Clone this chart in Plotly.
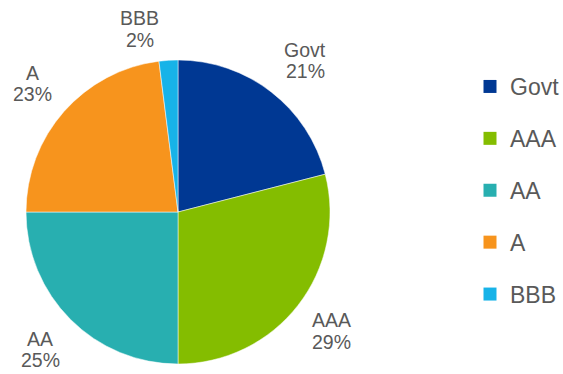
import math
import plotly.graph_objects as go

# Portfolio breakdown by credit rating
ratings = ["Govt", "AAA", "AA", "A", "BBB"]
shares = [21, 29, 25, 23, 2]
colors = ["#003893", "#84BD00", "#28AFB0", "#F7941D", "#17B3E8"]

W, H = 563, 374
cx, cy, r = 178, 212, 152  # pie centre and radius in pixels
FONT = "Liberation Sans, Arial"
GREY = "#595959"
LINE = 21.5  # line spacing of the two-line slice labels, px

fig = go.Figure()
fig.add_trace(
    go.Pie(
        labels=ratings,
        values=shares,
        sort=False,
        direction="clockwise",
        rotation=0,
        marker=dict(colors=colors, line=dict(color="white", width=0.5)),
        textinfo="none",
        hoverinfo="label+percent",
        showlegend=False,
        domain=dict(x=[(cx - r) / W, (cx + r) / W],
                    y=[1 - (cy + r) / H, 1 - (cy - r) / H]),
    )
)

# Legend entries: one square swatch per rating, each in its own group
for name, col in zip(ratings, colors):
    fig.add_trace(go.Scatter(
        x=[None], y=[None], mode="markers", name=name,
        marker=dict(symbol="square", size=13, color=col),
        legendgroup=name, showlegend=True, hoverinfo="skip",
    ))

# Outside labels placed along each slice's mid angle; small nudges keep
# the narrow BBB label clear of its neighbours
nudge = {"Govt": (8, 2), "BBB": (-26, 11)}
total = sum(shares)
cum = 0
annotations = []
for name, v in zip(ratings, shares):
    mid = (cum + v / 2) / total * 2 * math.pi
    cum += v
    R = r * 1.28
    dx, dy = nudge.get(name, (0, 0))
    px = cx + R * math.sin(mid) + dx
    py = cy - R * math.cos(mid) + dy
    pct = f"{round(v / total * 100)}%"
    for line_text, off in ((name, -LINE / 2), (pct, LINE / 2)):
        annotations.append(dict(
            x=px / W, y=1 - (py + off) / H, xref="paper", yref="paper",
            text=line_text,
            showarrow=False, xanchor="center", yanchor="middle",
            font=dict(size=19.5, color=GREY, family=FONT),
        ))

fig.update_layout(
    width=W, height=H,
    margin=dict(l=0, r=0, t=0, b=0, autoexpand=False),
    paper_bgcolor="white",
    plot_bgcolor="white",
    annotations=annotations,
    showlegend=True,
    xaxis=dict(visible=False),
    yaxis=dict(visible=False),
    legend=dict(
        x=470 / W, y=1 - 65 / H, xanchor="left", yanchor="top",
        font=dict(size=23, color=GREY, family=FONT),
        traceorder="grouped", tracegroupgap=19,
        itemwidth=30, bgcolor="rgba(0,0,0,0)",
    ),
)

fig.write_html("out.html")
